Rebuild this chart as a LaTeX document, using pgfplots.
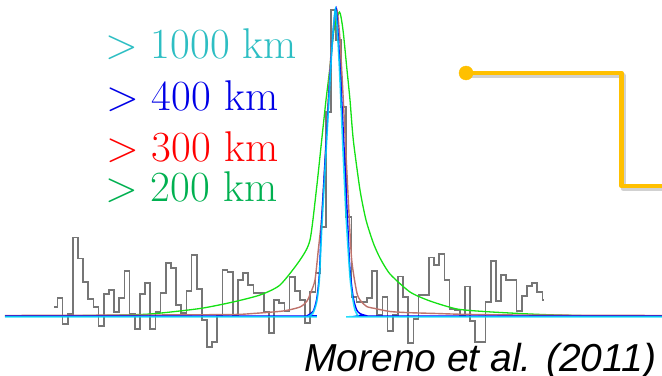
\documentclass[border=0pt]{standalone}
\usepackage{fontspec}
\setsansfont{Liberation Sans}
\usepackage{pgfplots}
\pgfplotsset{compat=1.18}
\definecolor{histgray}{RGB}{118,118,118}
\definecolor{cgreen}{RGB}{20,225,20}
\definecolor{cred}{RGB}{190,115,108}
\definecolor{cblue}{RGB}{0,0,250}
\definecolor{ccyan}{RGB}{0,215,250}
\definecolor{tcyan}{RGB}{45,190,195}
\definecolor{tblue}{RGB}{0,0,230}
\definecolor{tred}{RGB}{255,0,0}
\definecolor{tgreen}{RGB}{0,176,80}
\definecolor{gold}{RGB}{255,192,0}
\begin{document}
\begin{tikzpicture}
\useasboundingbox (0,0) rectangle (662bp,376bp);
\clip (0,0) rectangle (662bp,376bp);
\begin{axis}[scale only axis, width=662bp, height=376bp,
  xmin=0, xmax=662, ymin=0, ymax=376, y dir=reverse, hide axis,
  anchor=south west, at={(0,0)}]
% histogram
\addplot[const plot, histgray, line width=1.7bp] coordinates {
(54,307) (57.4,298) (62.5,324) (67.7,314) (72.8,237.5) (78.0,258.5) (83.2,282) (88.3,299) (93.5,307) (98.6,326) (103.8,294) (109.0,290) (114.1,312) (119.3,297.7) (124.4,270.7) (129.6,314) (134.8,329) (139.9,294) (145.1,282.7) (150.2,329) (155.4,311.7) (160.6,293.3) (165.7,263.3) (170.9,267.7) (176.0,305) (181.2,313) (186.4,291) (191.5,255) (196.7,289.3) (201.8,320) (207.0,346.7) (212.2,341.7) (217.3,315) (222.5,270) (227.6,271.7) (232.8,315) (238.0,280) (243.1,273.3) (248.3,285) (253.4,292.7) (258.6,292.7) (263.8,311.7) (268.9,333.3) (274.1,300) (279.2,303) (284.4,311) (289.6,276.7) (294.7,291) (299.9,300) (305.0,323.3) (310.2,291.7) (315.4,273) (320.5,227) (325.7,112) (330.8,10) (336.0,40) (341.2,107) (346.3,217) (351.5,296.7) (356.6,301.7) (361.8,301.7) (367.0,298) (372.1,271) (377.3,315) (382.4,297) (387.6,331) (392.8,315) (397.9,276.5) (403.1,296.7) (408.2,343) (413.4,319) (418.6,295) (423.7,295) (428.9,257.5) (434.0,265) (439.2,254) (444.4,280) (449.5,309) (454.7,310) (459.8,316) (465.0,286.5) (470.2,321) (475.3,342) (480.5,342) (485.6,301.7) (490.8,260.7) (496.0,301) (501.1,275) (506.3,280) (511.4,280) (516.6,311) (521.8,296) (526.9,286) (532.1,283) (537.2,292) (542.4,300) (543.5,300)};
% green > 200 km
\addplot[cgreen, line width=1.3bp, smooth, tension=0.4] coordinates {
(5,316) (100,315.5) (150,314) (200,308.5) (233,302) (260,295) (280,285) (300,260) (310,240) (316.7,187) (321.7,140) (326,100) (330,67) (334,30) (339.5,12) (343,30) (346.7,67) (350,100) (353.3,140) (360,190) (366,220) (373.3,243) (380,258) (390,274) (410,292) (430,301) (457,309) (487,311.7) (530,314) (557,315) (600,316) (662,316)};
% red > 300 km
\addplot[cred, line width=1.4bp, smooth, tension=0.4] coordinates {
(5,315.5) (150,315) (233,314.5) (253,313.5) (283,311) (300,307) (307,301) (311,292) (315,280) (318.3,250) (321.7,217) (325,160) (330,67) (334,25) (337,10) (340,40) (343.3,100) (348.3,200) (351.7,260) (356.7,292) (360,300) (366.7,306.5) (375,308.5) (390,311.5) (410,312.7) (437,313.5) (463,314.3) (520,315) (662,315.5)};
% blue > 400 km
\addplot[cblue, line width=1.4bp, smooth, tension=0.4] coordinates {
(5,316) (300,316) (308,315.2) (313.3,311) (316.7,299) (319.3,275) (321.7,220) (326.7,133) (331.7,50) (336,8) (340,67) (345,167) (348,230) (350,270) (353.3,298) (356.7,310) (360,313.5) (365,315.3) (375,316) (662,316)};
% cyan > 1000 km
\addplot[ccyan, line width=1.6bp, smooth, tension=0.4, opacity=0.85] coordinates {
(5,316.8) (300,316.8) (308,316.4) (313,313) (316.7,302) (319.3,280) (321.7,230) (326.7,140) (331.7,52) (335.5,9) (339,60) (343,150) (346,215) (350,277) (353,300) (355,310) (358.3,316.3) (362,316.8) (662,316.8)};
% connector shadow and line
\addplot[black, opacity=0.18, line width=5bp, line join=round] coordinates {(467.5,75.5) (623,75.5) (623,188.5) (664,188.5)};
\addplot[gold, line width=4.7bp, line join=round] coordinates {(466,73) (621.5,73) (621.5,186) (664,186)};
\addplot[only marks, mark=*, mark size=7bp, gold, mark options={draw=gold, fill=gold}] coordinates {(466,73)};
% labels
\node[anchor=base west, text=tcyan, inner sep=0pt, font=\fontsize{43bp}{44bp}\selectfont] at (axis cs:105,58.3) {> 1000 km};
\node[anchor=base west, text=tblue, inner sep=0pt, font=\fontsize{43bp}{44bp}\selectfont] at (axis cs:106,110) {> 400 km};
\node[anchor=base west, text=tred, inner sep=0pt, font=\fontsize{43bp}{44bp}\selectfont] at (axis cs:106,161.7) {> 300 km};
\node[anchor=base west, text=tgreen, inner sep=0pt, font=\fontsize{43bp}{44bp}\selectfont] at (axis cs:105,201.7) {> 200 km};
\node[anchor=base west, text=black, inner sep=0pt, font=\sffamily\itshape\fontsize{39bp}{40bp}\selectfont] at (axis cs:304,371.5) {Moreno et al. (2011)};
\end{axis}
\end{tikzpicture}
\end{document}
